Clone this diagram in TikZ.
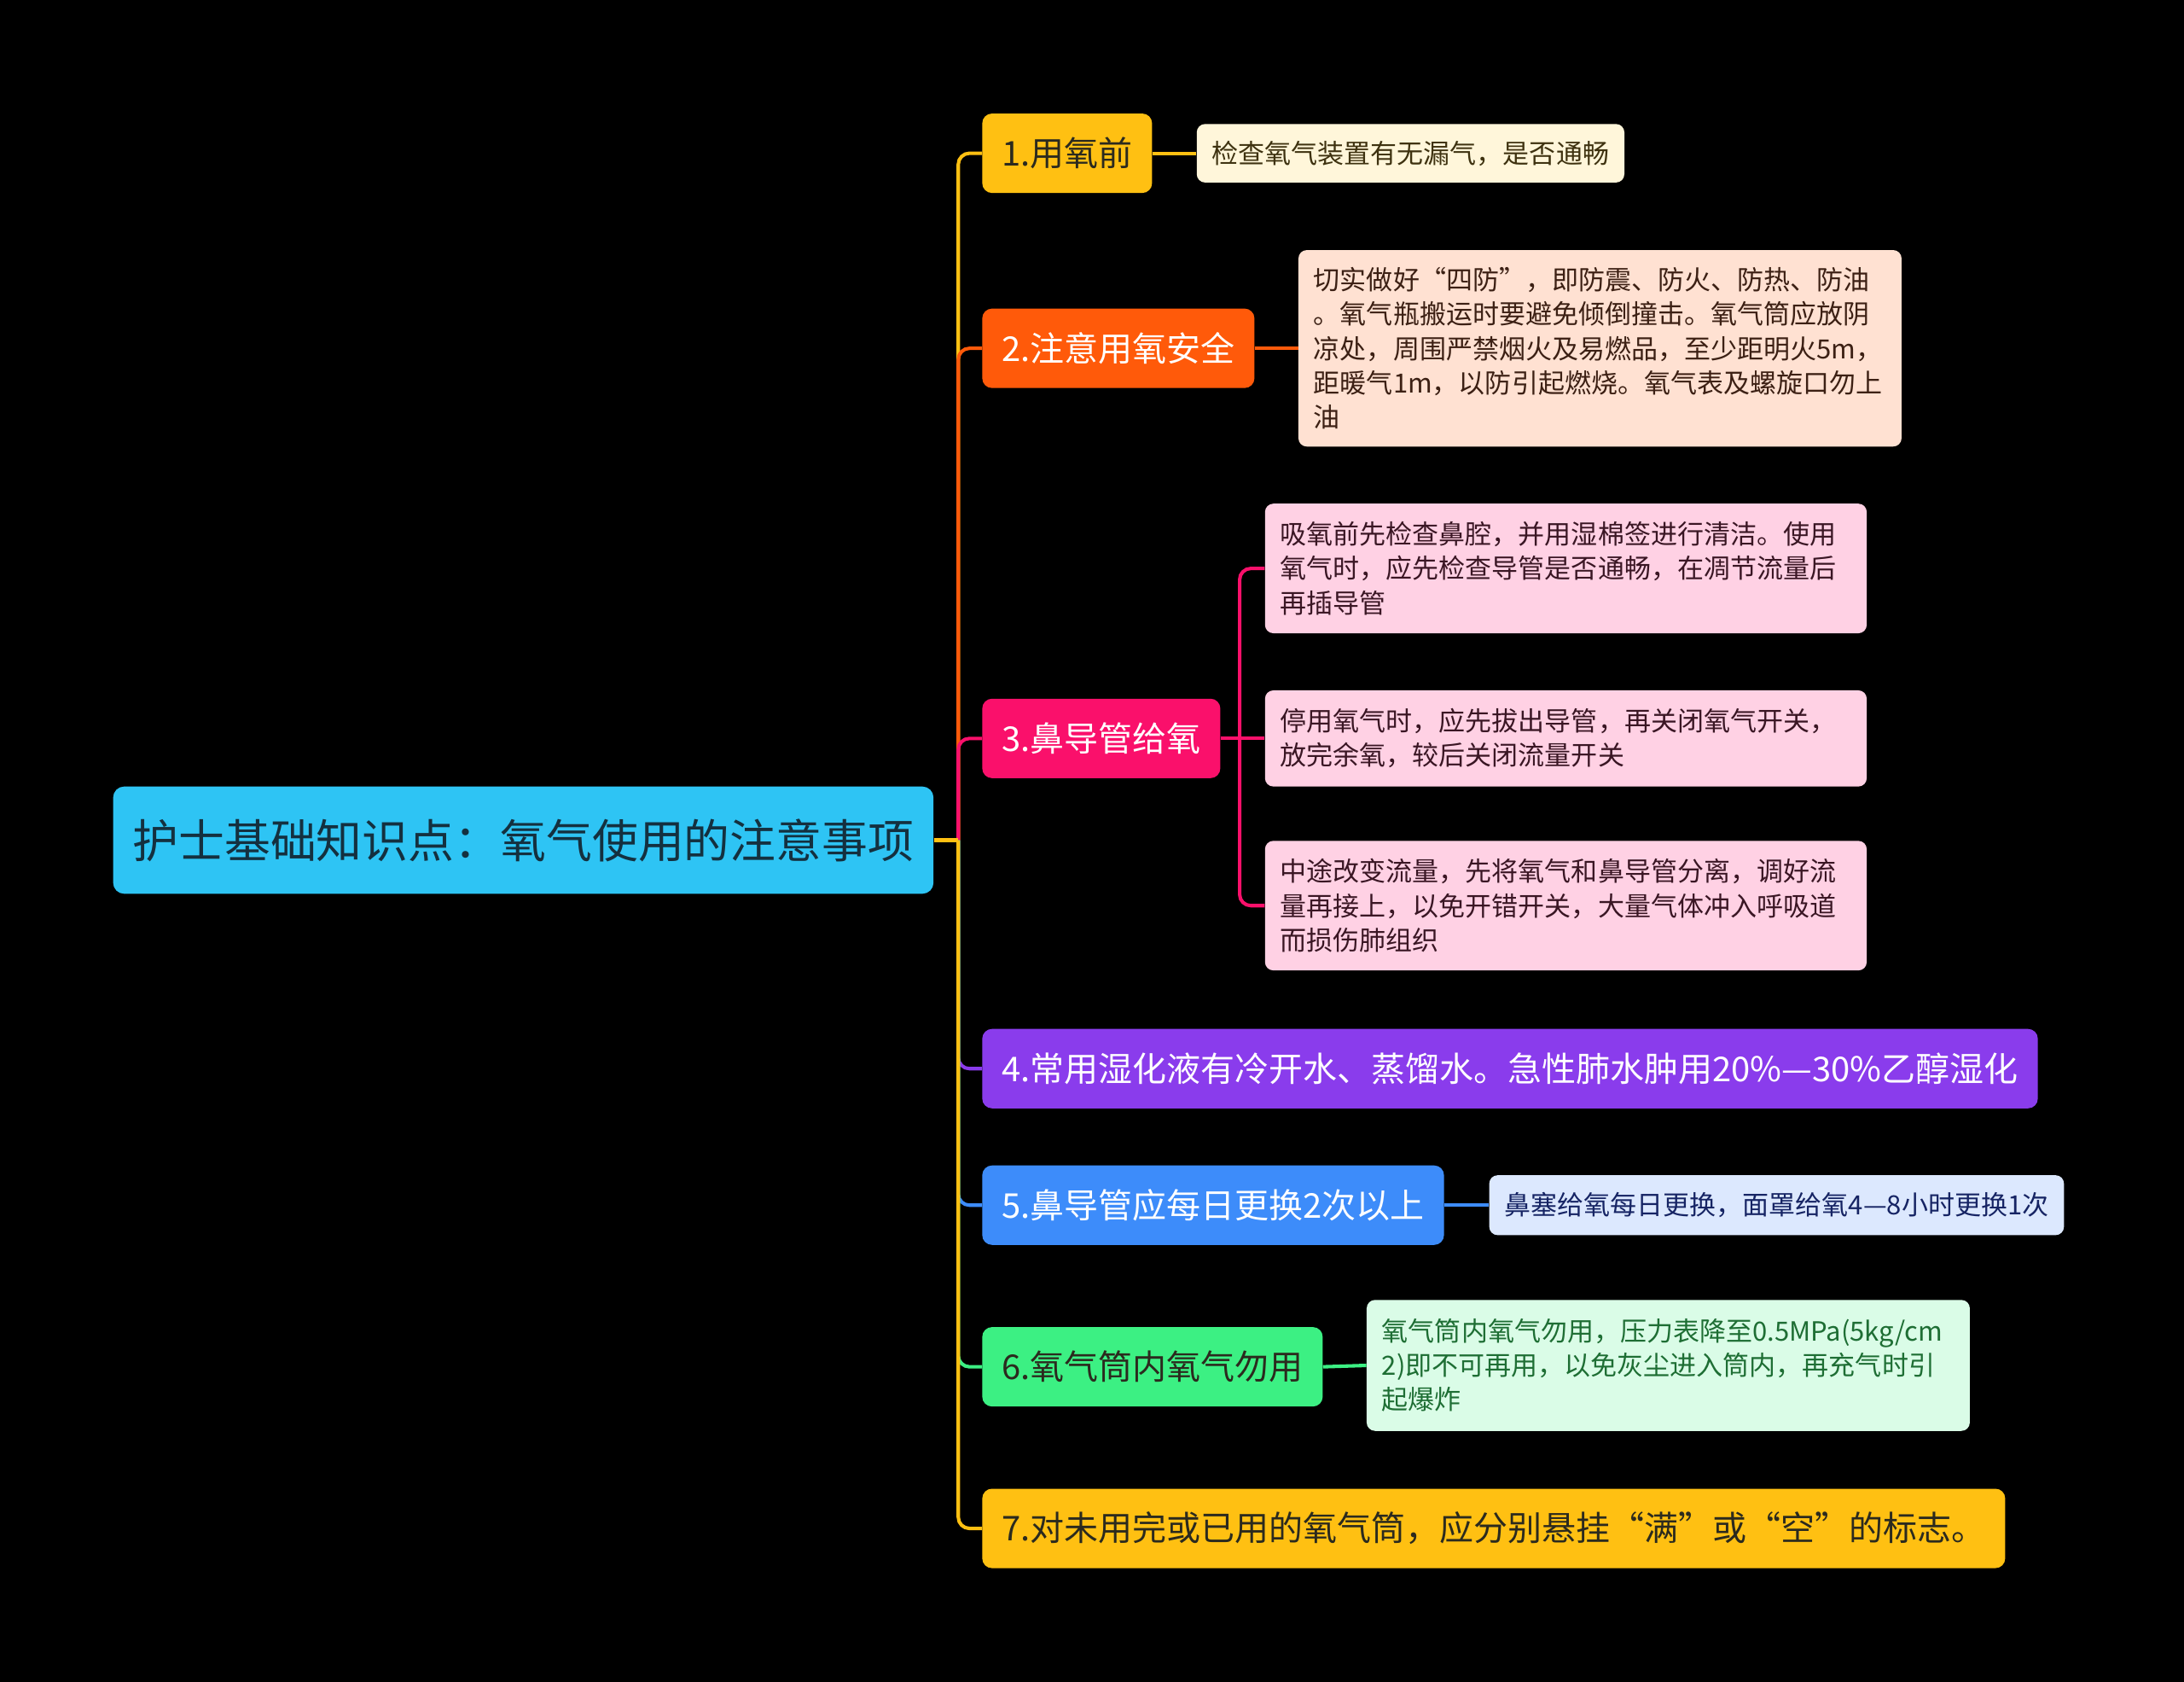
\documentclass[tikz,border=0pt]{standalone}
\usepackage{fontspec}
\setmainfont{Noto Sans CJK SC}
\usepackage{xcolor}
\usepackage{tikz}

\definecolor{rootcol}{HTML}{2EC4F4}
\definecolor{roottext}{HTML}{14303F}
\definecolor{ambercol}{HTML}{FFC012}
\definecolor{orangecol}{HTML}{FF5A0A}
\definecolor{pinkcol}{HTML}{FA106B}
\definecolor{purplecol}{HTML}{8A3CEC}
\definecolor{bluecol}{HTML}{3D8CFA}
\definecolor{greencol}{HTML}{3CF083}
\definecolor{darktext}{HTML}{2B2A1E}
\definecolor{ambernote}{HTML}{FFF6DA}
\definecolor{orangenote}{HTML}{FFE1D2}
\definecolor{pinknote}{HTML}{FFD1E4}
\definecolor{bluenote}{HTML}{DCE8FE}
\definecolor{greennote}{HTML}{DAFCE7}

\begin{document}
\begin{tikzpicture}[x=1pt, y=-1pt,
                        rootbox/.style={rectangle, rounded corners=8pt, fill=rootcol, text=roottext,
                                        font=\fontsize{33}{40}\selectfont, inner xsep=14pt, inner ysep=0pt,
                                        minimum height=77pt, anchor=west},
                        topicbox/.style={rectangle, rounded corners=7pt, inner xsep=14pt, inner ysep=0pt,
                                         minimum height=57pt, font=\fontsize{24.5}{29}\selectfont, anchor=west},
                        notebox/.style={rectangle, rounded corners=6pt, inner xsep=11pt, inner ysep=0pt,
                                        font=\fontsize{19}{24.6}\selectfont, anchor=west},
                        longnote/.style={notebox, text width=411pt, align=left},
                        link/.style={line width=2.5pt, rounded corners=8pt}]
        \fill[black] (0,0) rectangle (1568,1207);
        \useasboundingbox (0,0) rectangle (1568,1207);
        % Nodes
        \node[rootbox] (root) at (81,603) {护士基础知识点：氧气使用的注意事项};
        \coordinate (hub) at (688,603);
        \node[topicbox, fill=ambercol, text=darktext] (t1) at (705,110) {1.用氧前};
        \node[topicbox, fill=orangecol, text=white] (t2) at (705,250) {2.注意用氧安全};
        \node[topicbox, fill=pinkcol, text=white] (t3) at (705,530) {3.鼻导管给氧};
        \node[topicbox, fill=purplecol, text=white] (t4) at (705,767) {4.常用湿化液有冷开水、蒸馏水。急性肺水肿用20\%—30\%乙醇湿化};
        \node[topicbox, fill=bluecol, text=white] (t5) at (705,865) {5.鼻导管应每日更换2次以上};
        \node[topicbox, fill=greencol, text=darktext] (t6) at (705,981) {6.氧气筒内氧气勿用};
        \node[topicbox, fill=ambercol, text=darktext] (t7) at (705,1097) {7.对未用完或已用的氧气筒，应分别悬挂“满”或“空”的标志。};
        \node[notebox, fill=ambernote, text={rgb,255:red,62;green,50;blue,16}, minimum height=42pt] (n1) at (859,110)
            {检查氧气装置有无漏气，是否通畅};
        \node[longnote, fill=orangenote, text={rgb,255:red,60;green,32;blue,20}, minimum height=141pt] (n2) at (932,250)
            {切实做好“四防”，即防震、防火、防热、防油\\。氧气瓶搬运时要避免倾倒撞击。氧气筒应放阴\\凉处，周围严禁烟火及易燃品，至少距明火5m，\\距暖气1m，以防引起燃烧。氧气表及螺旋口勿上\\油};
        \coordinate (hub3) at (890,530);
        \node[longnote, fill=pinknote, text={rgb,255:red,58;green,22;blue,36}, minimum height=93pt, text width=410pt] (n3a) at (908,408)
            {吸氧前先检查鼻腔，并用湿棉签进行清洁。使用\\氧气时，应先检查导管是否通畅，在凋节流量后\\再插导管};
        \node[longnote, fill=pinknote, text={rgb,255:red,58;green,22;blue,36}, minimum height=69pt, text width=410pt] (n3b) at (908,530)
            {停用氧气时，应先拔出导管，再关闭氧气开关，\\放完余氧，较后关闭流量开关};
        \node[longnote, fill=pinknote, text={rgb,255:red,58;green,22;blue,36}, minimum height=93pt, text width=410pt] (n3c) at (908,650)
            {中途改变流量，先将氧气和鼻导管分离，调好流\\量再接上，以免开错开关，大量气体冲入呼吸道\\而损伤肺组织};
        \node[notebox, fill=bluenote, text={rgb,255:red,22;green,36;blue,100}, minimum height=43pt] (n5) at (1069,865)
            {鼻塞给氧每日更换，面罩给氧4—8小时更换1次};
        \node[longnote, fill=greennote, text={rgb,255:red,30;green,110;blue,52}, minimum height=94pt] (n6) at (981,980)
            {氧气筒内氧气勿用，压力表降至0.5MPa(5kg/cm\\2)即不可再用，以免灰尘进入筒内，再充气时引\\起爆炸};
        % Edges
        \draw[link, ambercol] (hub) |- (t1.west);
        \draw[link, orangecol] (hub) |- (t2.west);
        \draw[link, pinkcol] (hub) |- (t3.west);
        \draw[link, purplecol] (hub) |- (t4.west);
        \draw[link, bluecol] (hub) |- (t5.west);
        \draw[link, greencol] (hub) |- (t6.west);
        \draw[link, ambercol] (hub) |- (t7.west);
        \draw[link, ambercol] (root.east) -- (hub);
        \draw[link, ambercol] (t1.east) -- (n1.west);
        \draw[link, orangecol] (t2.east) -- (n2.west);
        \draw[link, pinkcol] (hub3) |- (n3a.west);
        \draw[link, pinkcol] (hub3) |- (n3c.west);
        \draw[link, pinkcol] (t3.east) -- (n3b.west);
        \draw[link, bluecol] (t5.east) -- (n5.west);
        \draw[link, greencol] (t6.east) -- (n6.west);
    \end{tikzpicture}
\end{document}
